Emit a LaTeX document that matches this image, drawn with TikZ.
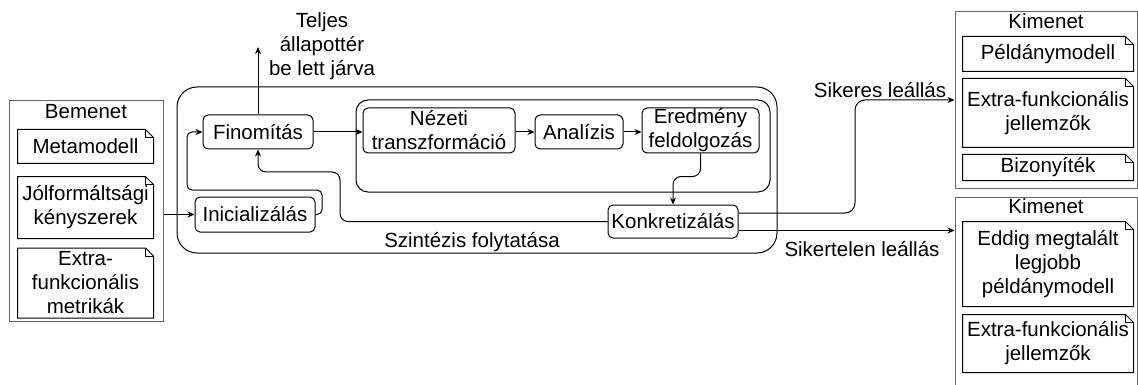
\documentclass[tikz,border=0pt]{standalone}
\usepackage{fontspec}
\setmainfont{Liberation Sans}
\usetikzlibrary{arrows.meta,calc}
\newcommand\fs{\fontsize{20.5}{24}\selectfont}
\newcommand\docoutline[1]{%
  \draw[docline] (#1.north west) -- ([xshift=-8pt]#1.north east) -- ([yshift=-8pt]#1.north east) -- (#1.south east) -- (#1.south west) -- cycle;
  \draw[docline] ([xshift=-8pt]#1.north east) |- ([yshift=-8pt]#1.north east);}
\begin{document}
\begin{tikzpicture}[x=1pt,y=-1pt,line width=1pt,
  every node/.style={font=\fs, inner sep=0pt, align=center},
  proc/.style={draw, rounded corners=5pt, fill=white},
  grp/.style={draw=black!60},
  docnode/.style={},
  docline/.style={draw=black, line width=1pt},
  arr/.style={-{Stealth[length=7pt,width=6pt]}, rounded corners=8pt}]
\useasboundingbox (0,0) rectangle (1138,385);
\clip (0,0) rectangle (1138,385);

% containers
\node[draw, rounded corners=20pt, minimum width=600, minimum height=166] (szint) at (477,170) {};
\node[draw, rounded corners=12pt, minimum width=414, minimum height=92] (inner) at (563,146) {};
\node (szintL) at (472,242) {Szintézis folytatása};

% Bemenet group
\node[grp, minimum width=154, minimum height=220] (bem) at (86,211) {};
\node (bemT) at (86,112) {Bemenet};
\node[minimum width=135, minimum height=33] (meta) at (85.5,146.5) {Metamodell};
\node[minimum width=135, minimum height=61] (jol) at (85.5,207.5) {Jólformáltsági\\kényszerek};
\node[minimum width=135, minimum height=69] (extm) at (85.5,283) {Extra-\\funkcionális\\metrikák};
\docoutline{meta}\docoutline{jol}\docoutline{extm}

% Kimenet 1
\node[grp, minimum width=182, minimum height=176] (kim1) at (1046,100) {};
\node (kim1T) at (1046,21) {Kimenet};
\node[minimum width=170, minimum height=34] (pel) at (1048,54) {Példánymodell};
\node[minimum width=170, minimum height=68] (ej1) at (1048,113) {Extra-funkcionális\\jellemzők};
\node[minimum width=170, minimum height=25] (biz) at (1048,167.5) {Bizonyíték};
\docoutline{pel}\docoutline{ej1}\docoutline{biz}

% Kimenet 2
\node[grp, minimum width=182, minimum height=203] (kim2) at (1046,298.5) {};
\node (kim2T) at (1046,206) {Kimenet};
\node[minimum width=170, minimum height=84] (edd) at (1048,264) {Eddig megtalált\\legjobb\\példánymodell};
\node[minimum width=170, minimum height=57] (ej2) at (1048,343.5) {Extra-funkcionális\\jellemzők};
\docoutline{edd}\docoutline{ej2}

% process nodes
\node[proc, minimum width=110, minimum height=34] (fin) at (258,132) {Finomítás};
\node[proc, minimum width=120, minimum height=35] (ini) at (255,214.5) {Inicializálás};
\node[proc, minimum width=152, minimum height=45] (nez) at (439,130.5) {Nézeti\\transzformáció};
\node[proc, minimum width=88, minimum height=34] (ana) at (579,132) {Analízis};
\node[proc, minimum width=117, minimum height=45] (ere) at (700.5,130.5) {Eredmény\\feldolgozás};
\node[proc, minimum width=130, minimum height=33] (kon) at (673,221.5) {Konkretizálás};

% labels
\node (teljes) at (322,46) {Teljes\\állapottér\\be lett járva};
\node (sik) at (880,90) {Sikeres leállás};
\node (sikt) at (862,249) {Sikertelen leállás};

% connectors
\draw[arr] (bem.east |- ini.west) -- (ini.west);
\draw[arr, rounded corners=5pt] (ini.east) -- (322,214.5) -- (322,190) -- (187,190) -- (187,132) -- (fin.west);
\draw[arr] (fin.east) -- (fin.east -| nez.west);
\draw[arr] (nez.east |- ana.west) -- (ana.west);
\draw[arr] (ana.east) -- (ana.east -| ere.west);
\draw[arr] (ere.south) -- ++(0,23) -| (kon.north);
\draw[arr] (kon.west) -- (340,221.5) -- (340,172) -- (258,172) -- (fin.south);
\coordinate (topEnd) at (258,47);
\draw[arr] (fin.north) -- (topEnd);
\coordinate (k1) at ($(kon.east)+(0,-8.5)$);
\coordinate (k2) at ($(kon.east)+(0,9)$);
\draw[arr, rounded corners=10pt] (k1) -- (855,213) -- (855,100) -- (kim1.west);
\draw[arr] (k2) -- (k2 -| kim2.west);
\end{tikzpicture}
\end{document}
